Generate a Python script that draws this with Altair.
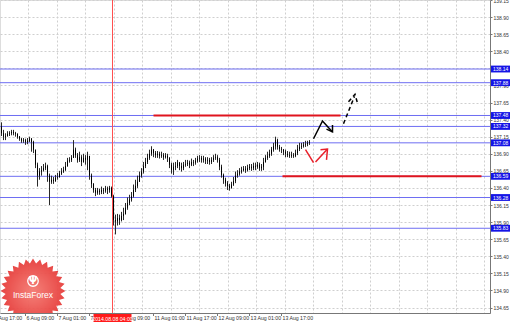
import altair as alt
import pandas as pd
import numpy as np

# ---------------- data ----------------
close = [137.20, 137.15, 137.16, 137.19, 137.20, 137.22, 137.20, 137.19, 137.15, 137.12,
         137.09, 137.10, 137.07, 137.09, 137.12, 137.07, 136.96, 136.74, 136.58, 136.64,
         136.66, 136.69, 136.72, 136.58, 136.49, 136.52, 136.50, 136.55, 136.56, 136.61,
         136.64, 136.66, 136.72, 136.80, 136.81, 136.84, 136.96, 136.88, 136.81, 136.85,
         136.78, 136.84, 136.81, 136.87, 136.58, 136.46, 136.37, 136.33, 136.36, 136.34,
         136.37, 136.36, 136.39, 136.37, 136.40, 136.28, 135.93, 135.91, 135.96, 135.93,
         135.99, 136.02, 136.11, 136.18, 136.23, 136.28, 136.37, 136.43, 136.49, 136.58,
         136.64, 136.72, 136.78, 136.84, 136.90, 136.96, 136.91, 136.88, 136.90, 136.87,
         136.88, 136.85, 136.87, 136.84, 136.74, 136.66, 136.71, 136.72, 136.77, 136.72,
         136.69, 136.74, 136.75, 136.77, 136.74, 136.78, 136.77, 136.80, 136.83, 136.84,
         136.81, 136.83, 136.80, 136.81, 136.78, 136.81, 136.84, 136.85, 136.81, 136.71,
         136.59, 136.52, 136.47, 136.43, 136.40, 136.45, 136.50, 136.58, 136.61, 136.64,
         136.66, 136.68, 136.66, 136.69, 136.71, 136.69, 136.72, 136.71, 136.74, 136.69,
         136.71, 136.78, 136.84, 136.87, 136.90, 136.96, 137.01, 137.10, 137.00, 136.97,
         136.96, 136.93, 136.90, 136.88, 136.87, 136.88, 136.87, 136.91, 136.97, 137.00,
         137.01, 137.03, 137.04, 137.06, 137.07]
high = [137.36, 137.25, 137.20, 137.23, 137.23, 137.25, 137.25, 137.22, 137.20, 137.16,
        137.13, 137.13, 137.12, 137.13, 137.15, 137.13, 137.09, 136.96, 136.77, 136.69,
        136.72, 136.75, 136.77, 136.74, 136.61, 136.58, 136.56, 136.59, 136.62, 136.65,
        136.69, 136.71, 136.78, 136.84, 136.85, 136.88, 137.10, 136.99, 136.91, 136.93,
        136.88, 136.90, 136.88, 136.93, 136.84, 136.61, 136.47, 136.40, 136.40, 136.39,
        136.42, 136.40, 136.43, 136.42, 136.43, 136.42, 136.30, 136.01, 136.02, 136.01,
        136.05, 136.11, 136.18, 136.26, 136.30, 136.34, 136.45, 136.52, 136.58, 136.64,
        136.69, 136.78, 136.84, 136.90, 136.96, 137.01, 136.97, 136.94, 136.94, 136.93,
        136.93, 136.91, 136.91, 136.90, 136.85, 136.77, 136.77, 136.78, 136.81, 136.78,
        136.77, 136.78, 136.81, 136.81, 136.80, 136.83, 136.81, 136.84, 136.87, 136.88,
        136.87, 136.87, 136.85, 136.85, 136.84, 136.85, 136.88, 136.90, 136.88, 136.84,
        136.74, 136.61, 136.55, 136.50, 136.46, 136.49, 136.56, 136.64, 136.66, 136.69,
        136.71, 136.72, 136.72, 136.74, 136.75, 136.75, 136.77, 136.77, 136.78, 136.77,
        136.75, 136.84, 136.88, 136.93, 136.96, 137.00, 137.06, 137.15, 137.12, 137.03,
        137.00, 136.97, 136.96, 136.94, 136.93, 136.93, 136.91, 136.96, 137.03, 137.06,
        137.06, 137.07, 137.09, 137.09, 137.10]
low = [137.16, 137.10, 137.10, 137.15, 137.16, 137.17, 137.17, 137.15, 137.12, 137.09,
       137.06, 137.06, 137.03, 137.04, 137.07, 136.93, 136.91, 136.69, 136.42, 136.52,
       136.58, 136.64, 136.66, 136.49, 136.15, 136.46, 136.46, 136.49, 136.52, 136.55,
       136.59, 136.62, 136.65, 136.71, 136.77, 136.78, 136.84, 136.84, 136.77, 136.78,
       136.72, 136.77, 136.74, 136.66, 136.52, 136.40, 136.33, 136.28, 136.30, 136.30,
       136.31, 136.31, 136.33, 136.31, 136.33, 136.26, 135.85, 135.72, 135.85, 135.86,
       135.91, 135.93, 136.01, 136.08, 136.15, 136.20, 136.26, 136.34, 136.40, 136.49,
       136.55, 136.61, 136.69, 136.75, 136.81, 136.87, 136.85, 136.84, 136.84, 136.83,
       136.84, 136.81, 136.83, 136.78, 136.69, 136.61, 136.59, 136.66, 136.69, 136.66,
       136.64, 136.66, 136.71, 136.72, 136.69, 136.72, 136.72, 136.74, 136.77, 136.78,
       136.77, 136.77, 136.75, 136.75, 136.74, 136.75, 136.78, 136.81, 136.77, 136.66,
       136.55, 136.46, 136.42, 136.37, 136.36, 136.39, 136.43, 136.47, 136.55, 136.58,
       136.61, 136.64, 136.62, 136.64, 136.66, 136.65, 136.66, 136.66, 136.68, 136.65,
       136.65, 136.66, 136.77, 136.81, 136.84, 136.87, 136.93, 136.96, 136.96, 136.93,
       136.91, 136.88, 136.85, 136.85, 136.84, 136.84, 136.84, 136.85, 136.88, 136.94,
       136.97, 136.99, 137.00, 137.01, 137.03]
first_open = 137.30

levels = [138.14, 137.94, 137.46, 137.30, 137.06, 136.57, 136.26, 135.81]
level_labels = ["138.14", "137.88", "137.48", "137.32", "137.08", "136.59", "136.28", "135.83"]

# red resistance / support segments (bar index from, to, price)
red_from = [76, 140.5]
red_to = [169.5, 240]
red_price = [137.46, 136.57]

# vertical marker
marker_bar = [55.5]
marker_label = ["2014.08.08 04:00"]

y_ticks = [134.65, 134.90, 135.15, 135.40, 135.65, 135.90, 136.15, 136.40, 136.65,
           136.90, 137.15, 137.40, 137.65, 137.90, 138.15, 138.40, 138.65, 138.90, 139.15]

time_label_bar = [-4, 12, 28, 44, 60, 76, 92, 108, 124, 140]
time_labels = ["5 Aug 17:00", "6 Aug 09:00", "7 Aug 01:00", "7 Aug 17:00", "8 Aug 09:00",
               "11 Aug 01:00", "11 Aug 17:00", "12 Aug 09:00", "13 Aug 01:00", "13 Aug 17:00"]

grid_x = [13.4, 27.65, 41.9, 56.15, 70.4, 84.65, 98.9, 113.15, 127.4, 141.65, 155.9,
          170.15, 184.4, 198.65, 212.9, 227.15, 241.4]

# forecast arrows (bar index, price)
arrow_group = ["bs", "bs", "bs", "bh", "bh", "bh", "r1", "r1", "r2", "r2", "rh", "rh", "rh"]
arrow_color = ["#000000"] * 6 + ["#e8202a"] * 7
arrow_x = [156, 160.5, 165.5, 162.5, 165.5, 165.5, 152, 156, 157, 163, 159.5, 163, 162.5]
arrow_y = [137.12, 137.38, 137.22, 137.26, 137.22, 137.32, 136.96, 136.77, 136.78, 136.97,
           136.96, 136.97, 136.81]
dash_group = ["d", "d", "dh", "dh", "dh"]
dash_x = [171, 176.5, 173.5, 176.75, 178]
dash_y = [137.34, 137.74, 137.66, 137.77, 137.64]

# ---------------- frames ----------------
n = len(close)
candles = pd.DataFrame({
    "bar": list(range(n)),
    "open": [first_open] + close[:-1],
    "close": close,
    "high": high,
    "low": low,
})
lv = pd.DataFrame({"price": levels, "label": level_labels})
red = pd.DataFrame({"x1": red_from, "x2": red_to, "price": red_price})
mk = pd.DataFrame({"bar": marker_bar, "label": marker_label})
tl = pd.DataFrame({"bar": time_label_bar, "label": time_labels})
arr = pd.DataFrame({"g": arrow_group, "c": arrow_color, "x": arrow_x, "y": arrow_y,
                    "o": list(range(len(arrow_x)))})
dsh = pd.DataFrame({"g": dash_group, "x": dash_x, "y": dash_y, "o": list(range(len(dash_x)))})

W, H = 490, 313
xs = alt.Scale(domain=[-0.75, 244.25], nice=False, zero=False)
ys = alt.Scale(domain=[134.57, 139.15], nice=False, zero=False)
FONT = "Liberation Sans"

XAX = alt.Axis(values=grid_x, labels=False, ticks=False, title=None, grid=True,
               gridDash=[2, 2], gridColor="#cfcfcf", gridWidth=1,
               domainColor="#777777", domainWidth=1)
YAX = alt.Axis(orient="right", values=y_ticks, format=".2f", title=None, grid=True,
               gridDash=[2, 2], gridColor="#cfcfcf", gridWidth=1,
               domainColor="#777777", tickColor="#777777", tickSize=2, labelPadding=1,
               labelFontSize=5, labelFont=FONT, labelColor="#333333",
               labelOverlap=False, labelBound=False, labelFlush=False)


def X(f):
    return alt.X(f, scale=xs, axis=XAX)


def Y(f):
    return alt.Y(f, scale=ys, axis=YAX)


# logo
angles = np.linspace(0, 2 * np.pi, 57)[:-1]
radii = np.where(np.arange(56) % 2 == 0, 1.0, 0.85)
pts = [f"{r*np.sin(a):.3f},{-r*np.cos(a):.3f}" for a, r in zip(angles, radii)]
star_path = "M" + " L".join(pts) + " Z"
logo_df = pd.DataFrame({"k": [0]})
logo = alt.Chart(logo_df).mark_point(
    shape=star_path, filled=True, size=4200, clip=True, opacity=0.95, strokeWidth=0,
    fill=alt.Gradient(gradient="radial", stops=[
        alt.GradientStop(color="#f47a72", offset=0),
        alt.GradientStop(color="#e63c3a", offset=1)]),
).encode(x=alt.value(33), y=alt.value(291))
logo_icon = alt.Chart(logo_df).mark_text(
    text="Ψ", font="DejaVu Sans", fontSize=10, color="white", fontWeight="bold"
).encode(x=alt.value(33), y=alt.value(281))
logo_ring = alt.Chart(logo_df).mark_point(
    shape="circle", size=110, stroke="white", strokeWidth=1.3, filled=False, opacity=1
).encode(x=alt.value(33), y=alt.value(281))
logo_text = alt.Chart(logo_df).mark_text(
    text="InstaForex", font=FONT, fontSize=8.5, color="white"
).encode(x=alt.value(33), y=alt.value(295))

# level lines
level_lines = alt.Chart(lv).mark_rule(color="#6e6ef2", strokeWidth=1).encode(y=Y("price:Q"))
red_lines = alt.Chart(red).mark_rule(color="#e0141e", strokeWidth=2).encode(
    x=X("x1:Q"), x2="x2:Q", y=Y("price:Q"))
vline = alt.Chart(mk).mark_rule(color="#ff5050", strokeWidth=1).encode(x=X("bar:Q"))

# candles
wicks = alt.Chart(candles).mark_rule(color="#2a2a2a", strokeWidth=1).encode(
    x=X("bar:Q"), y=Y("low:Q"), y2="high:Q")
bodies = alt.Chart(candles).mark_rule(color="#000000", strokeWidth=1).encode(
    x=X("bar:Q"), y=Y("open:Q"), y2="close:Q")

# arrows
arrows = alt.Chart(arr).mark_line(strokeWidth=1.5).encode(
    x=X("x:Q"), y=Y("y:Q"), detail="g:N", order="o:Q", color=alt.Color("c:N", scale=None))
dashed = alt.Chart(dsh).mark_line(strokeWidth=1.5, strokeDash=[4, 3], color="#000000").encode(
    x=X("x:Q"), y=Y("y:Q"), detail="g:N", order="o:Q")

# price boxes on the right
boxes = alt.Chart(lv).transform_calculate(
    lo="datum.price - 0.05", hi="datum.price + 0.05"
).mark_rect(color="#1414e6").encode(
    x=alt.value(491), x2=alt.value(510), y=Y("lo:Q"), y2="hi:Q")
box_text = alt.Chart(lv).mark_text(
    align="left", baseline="middle", font=FONT, fontSize=5, color="white"
).encode(x=alt.value(493), y=Y("price:Q"), text="label:N")

# time labels
time_text = alt.Chart(tl).mark_text(
    align="left", baseline="middle", font=FONT, fontSize=5.2, color="#333333", dx=1
).encode(x=X("bar:Q"), y=alt.value(318), text="label:N")
time_ticks = alt.Chart(tl).mark_rule(color="#777777").encode(
    x=X("bar:Q"), y=alt.value(313), y2=alt.value(316))
mk_box = alt.Chart(mk).transform_calculate(
    a="datum.bar - 9.5", b="datum.bar + 9.5"
).mark_rect(color="#ff1a1a").encode(
    x=X("a:Q"), x2="b:Q", y=alt.value(314), y2=alt.value(322))
mk_text = alt.Chart(mk).mark_text(
    align="center", baseline="middle", font=FONT, fontSize=5.2, color="white"
).encode(x=X("bar:Q"), y=alt.value(318.5), text="label:N")

chart = alt.layer(
    logo, logo_ring, logo_icon, logo_text, level_lines, red_lines, vline,
    wicks, bodies, arrows, dashed, boxes, box_text, time_text, time_ticks, mk_box, mk_text
).properties(
    width=W, height=H, autosize=alt.AutoSizeParams(type="none"),
    padding={"left": 0, "top": 0, "right": 20, "bottom": 10},
).configure_view(stroke=None).configure(background="white")

chart.save("out.html", embed_options={"renderer": "svg", "actions": False})
